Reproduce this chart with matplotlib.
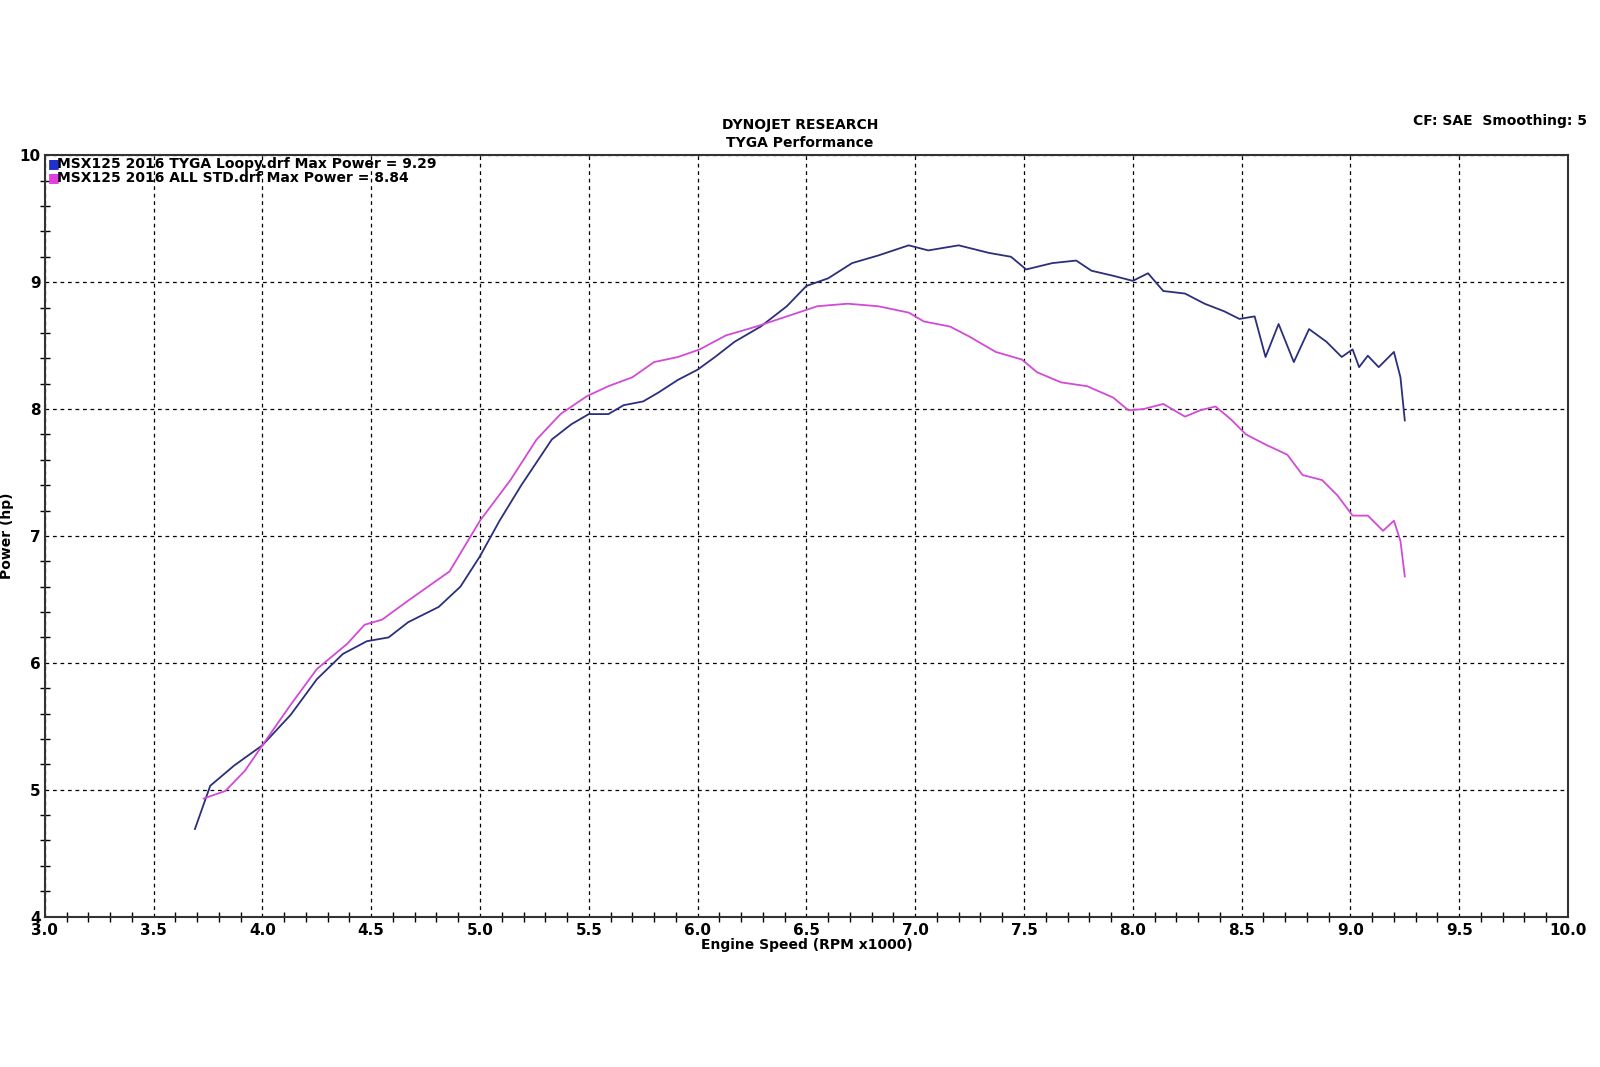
import numpy as np
import matplotlib.pyplot as plt
from matplotlib.ticker import MultipleLocator

# TYGA Loopy run
rpm_tyga = [3.69, 3.76, 3.87, 4.0, 4.13, 4.25, 4.37, 4.48, 4.58, 4.67, 4.81, 4.91, 5.0, 5.09,
            5.19, 5.33, 5.42, 5.5, 5.59, 5.66, 5.75, 5.82, 5.91, 6.0, 6.08, 6.17, 6.29, 6.41,
            6.5, 6.6, 6.71, 6.83, 6.97, 7.06, 7.2, 7.34, 7.44, 7.51, 7.63, 7.74, 7.81, 7.91,
            8.0, 8.07, 8.14, 8.24, 8.33, 8.42, 8.49, 8.56, 8.61, 8.67, 8.74, 8.81, 8.89, 8.96,
            9.01, 9.04, 9.08, 9.13, 9.2, 9.23, 9.25]
hp_tyga = [4.69, 5.03, 5.19, 5.35, 5.59, 5.87, 6.07, 6.17, 6.20, 6.32, 6.44, 6.60, 6.84, 7.12,
           7.40, 7.76, 7.88, 7.96, 7.96, 8.03, 8.06, 8.13, 8.23, 8.31, 8.41, 8.53, 8.65, 8.81,
           8.97, 9.03, 9.15, 9.21, 9.29, 9.25, 9.29, 9.23, 9.20, 9.10, 9.15, 9.17, 9.09, 9.05,
           9.01, 9.07, 8.93, 8.91, 8.83, 8.77, 8.71, 8.73, 8.41, 8.67, 8.37, 8.63, 8.53, 8.41,
           8.47, 8.33, 8.42, 8.33, 8.45, 8.25, 7.91]

# stock run
rpm_std = [3.73, 3.83, 3.92, 4.0, 4.13, 4.25, 4.39, 4.47, 4.55, 4.67, 4.86, 5.0, 5.14, 5.26,
           5.37, 5.49, 5.59, 5.70, 5.80, 5.91, 6.01, 6.13, 6.27, 6.41, 6.55, 6.69, 6.83, 6.97,
           7.04, 7.16, 7.25, 7.37, 7.49, 7.56, 7.67, 7.79, 7.91, 7.98, 8.05, 8.14, 8.24, 8.31,
           8.38, 8.45, 8.52, 8.61, 8.71, 8.78, 8.87, 8.94, 9.01, 9.08, 9.15, 9.20, 9.23, 9.25]
hp_std = [4.93, 4.99, 5.15, 5.35, 5.67, 5.95, 6.15, 6.30, 6.34, 6.49, 6.72, 7.12, 7.44, 7.76,
          7.96, 8.10, 8.18, 8.25, 8.37, 8.41, 8.47, 8.58, 8.65, 8.73, 8.81, 8.83, 8.81, 8.76,
          8.69, 8.65, 8.57, 8.45, 8.39, 8.29, 8.21, 8.18, 8.09, 7.99, 8.00, 8.04, 7.94, 7.99,
          8.02, 7.92, 7.80, 7.72, 7.64, 7.48, 7.44, 7.32, 7.16, 7.16, 7.04, 7.12, 6.96, 6.68]

plt.rcParams['font.family'] = 'DejaVu Sans'
plt.rcParams['font.weight'] = 'bold'

fig = plt.figure(figsize=(16, 10.67), dpi=100)
ax = fig.add_axes([0.028, 0.141, 0.952, 0.7135])

ax.plot(rpm_tyga, hp_tyga, color="#2b2f7c", lw=1.3)
ax.plot(rpm_std, hp_std, color="#d24ad6", lw=1.3)

ax.set_xlim(3, 10)
ax.set_ylim(4, 10)
ax.xaxis.set_major_locator(MultipleLocator(0.5))
ax.xaxis.set_minor_locator(MultipleLocator(0.1))
ax.yaxis.set_major_locator(MultipleLocator(1))
ax.yaxis.set_minor_locator(MultipleLocator(0.2))
ax.xaxis.set_major_formatter(lambda v, p: "%.1f" % v)
ax.grid(True, which="major", color="black", ls=(0, (3, 3)), lw=0.9)
ax.tick_params(which="both", direction="inout", labelsize=11)
ax.tick_params(axis="x", pad=5)
ax.tick_params(axis="y", pad=3)
ax.tick_params(which="major", length=0)
ax.tick_params(which="minor", length=7, width=1)
for s in ax.spines.values():
    s.set_linewidth(1.5)
    s.set_color("#333333")

ax.set_xlabel("Engine Speed (RPM x1000)", fontsize=10, fontweight="bold", labelpad=0)
ax.set_ylabel("Power (hp)", fontsize=10, fontweight="bold", labelpad=4)

fig.text(0.5, 0.879, "DYNOJET RESEARCH", ha="center", fontsize=10, fontweight="bold")
fig.text(0.5, 0.862, "TYGA Performance", ha="center", fontsize=10, fontweight="bold")
fig.text(0.992, 0.883, "CF: SAE  Smoothing: 5", ha="right", fontsize=10, fontweight="bold")

ax.text(0.002, 0.998, "\u25A0", color="#2030d0", transform=ax.transAxes, va="top", fontsize=9)
ax.text(0.002, 0.979, "\u25A0", color="#e040e0", transform=ax.transAxes, va="top", fontsize=9)
ax.text(0.008, 0.998, "MSX125 2016 TYGA Loopy.drf Max Power = 9.29",
        transform=ax.transAxes, va="top", fontsize=10, fontweight="bold")
ax.text(0.008, 0.979, "MSX125 2016 ALL STD.drf Max Power = 8.84",
        transform=ax.transAxes, va="top", fontsize=10, fontweight="bold")

fig.savefig("out.png", dpi=100, facecolor="white")
